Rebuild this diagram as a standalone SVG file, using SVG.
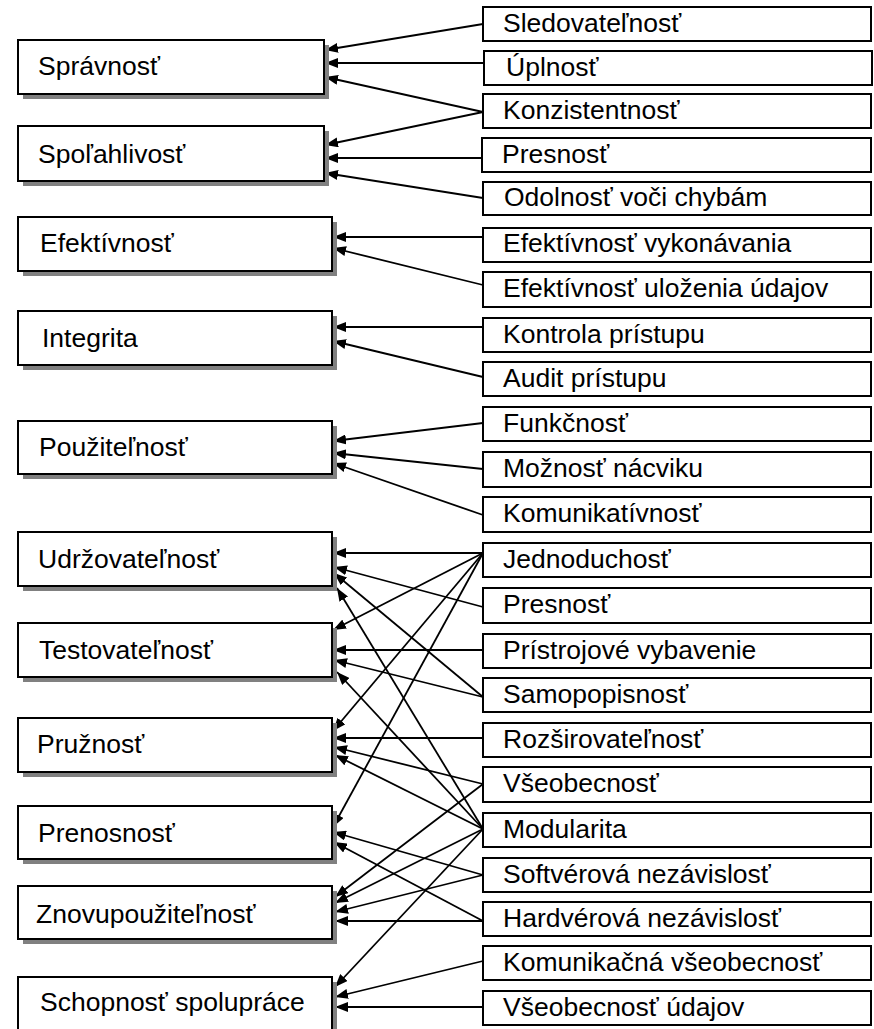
<svg xmlns="http://www.w3.org/2000/svg" width="874" height="1029" viewBox="0 0 874 1029">
<defs>
<marker id="ah" viewBox="0 0 13 10" refX="13" refY="5" markerWidth="13" markerHeight="10" markerUnits="userSpaceOnUse" orient="auto">
<path d="M0,0 L13,5 L0,10 z" fill="#000"/>
</marker>
</defs>
<style>
text{font-family:"Liberation Sans",Arial,sans-serif;font-size:26.5px;fill:#000}
.sh{fill:#808080}
.bx{fill:#fff;stroke:#000;stroke-width:2}
.rb{fill:#fff;stroke:#000;stroke-width:2}
#connectors line{stroke:#000;stroke-width:1.8;marker-end:url(#ah)}
</style>
<rect width="874" height="1029" fill="#fff"/>
<g id="connectors">
<line x1="483" y1="24" x2="325" y2="50"/>
<line x1="483" y1="63" x2="325" y2="63"/>
<line x1="483" y1="112" x2="325" y2="77"/>
<line x1="483" y1="112" x2="325" y2="145"/>
<line x1="482" y1="158" x2="325" y2="158"/>
<line x1="483" y1="198" x2="325" y2="173"/>
<line x1="483" y1="237" x2="333" y2="237"/>
<line x1="483" y1="285" x2="333" y2="248"/>
<line x1="483" y1="327" x2="333" y2="327"/>
<line x1="483" y1="377" x2="333" y2="341"/>
<line x1="483" y1="423" x2="333" y2="441"/>
<line x1="483" y1="469" x2="333" y2="453"/>
<line x1="483" y1="515" x2="333" y2="463"/>
<line x1="483" y1="553" x2="333" y2="553"/>
<line x1="483" y1="553" x2="333" y2="630"/>
<line x1="483" y1="553" x2="333" y2="731"/>
<line x1="483" y1="553" x2="333" y2="827"/>
<line x1="483" y1="607" x2="334" y2="567"/>
<line x1="483" y1="650" x2="333" y2="650"/>
<line x1="483" y1="697" x2="334" y2="573"/>
<line x1="483" y1="697" x2="334" y2="660"/>
<line x1="483" y1="738" x2="333" y2="738"/>
<line x1="483" y1="784" x2="334" y2="747"/>
<line x1="483" y1="784" x2="335" y2="897"/>
<line x1="483" y1="829" x2="337" y2="588"/>
<line x1="483" y1="829" x2="337" y2="672"/>
<line x1="483" y1="829" x2="335" y2="755"/>
<line x1="483" y1="829" x2="335" y2="903"/>
<line x1="483" y1="829" x2="335" y2="987"/>
<line x1="483" y1="875" x2="333" y2="832"/>
<line x1="483" y1="875" x2="335" y2="912"/>
<line x1="483" y1="921" x2="334" y2="842"/>
<line x1="483" y1="921" x2="335" y2="921"/>
<line x1="483" y1="961" x2="335" y2="997"/>
<line x1="483" y1="1007" x2="335" y2="1007"/>
</g>
<g id="spravnost"><rect class="sh" x="23" y="45" width="306" height="54"/><rect class="bx" x="18" y="40" width="306" height="54"/><text x="38" y="75">Správnosť</text></g>
<g id="spolahlivost"><rect class="sh" x="23" y="131" width="306" height="55"/><rect class="bx" x="18" y="126" width="306" height="55"/><text x="38" y="163">Spoľahlivosť</text></g>
<g id="efektivnost"><rect class="sh" x="23" y="222" width="314" height="54"/><rect class="bx" x="18" y="217" width="314" height="54"/><text x="40" y="252">Efektívnosť</text></g>
<g id="integrita"><rect class="sh" x="23" y="316" width="314" height="54"/><rect class="bx" x="18" y="311" width="314" height="54"/><text x="42" y="347">Integrita</text></g>
<g id="pouzitelnost"><rect class="sh" x="23" y="426" width="314" height="53"/><rect class="bx" x="18" y="421" width="314" height="53"/><text x="39" y="456">Použiteľnosť</text></g>
<g id="udrzovatelnost"><rect class="sh" x="23" y="537" width="314" height="54"/><rect class="bx" x="18" y="532" width="314" height="54"/><text x="38" y="568">Udržovateľnosť</text></g>
<g id="testovatelnost"><rect class="sh" x="23" y="628" width="314" height="54"/><rect class="bx" x="18" y="623" width="314" height="54"/><text x="39" y="659">Testovateľnosť</text></g>
<g id="pruznost"><rect class="sh" x="23" y="723" width="314" height="54"/><rect class="bx" x="18" y="718" width="314" height="54"/><text x="37" y="753">Pružnosť</text></g>
<g id="prenosnost"><rect class="sh" x="23" y="811" width="314" height="53"/><rect class="bx" x="18" y="806" width="314" height="53"/><text x="38" y="842">Prenosnosť</text></g>
<g id="znovupouzitelnost"><rect class="sh" x="23" y="891" width="314" height="53"/><rect class="bx" x="18" y="886" width="314" height="53"/><text x="36" y="923">Znovupoužiteľnosť</text></g>
<g id="schopnost"><rect class="sh" x="23" y="982" width="314" height="56"/><rect class="bx" x="18" y="977" width="314" height="56"/><text x="40" y="1011">Schopnosť spolupráce</text></g>
<g id="sledovatelnost"><rect class="rb" x="483" y="7" width="388" height="34"/><text x="503" y="32">Sledovateľnosť</text></g>
<g id="uplnost"><rect class="rb" x="484" y="51" width="388" height="34"/><text x="506" y="76">Úplnosť</text></g>
<g id="konzistentnost"><rect class="rb" x="483" y="94" width="388" height="34"/><text x="503" y="119">Konzistentnosť</text></g>
<g id="presnost1"><rect class="rb" x="482" y="138" width="389" height="34"/><text x="502" y="163">Presnosť</text></g>
<g id="odolnost"><rect class="rb" x="483" y="182" width="388" height="33"/><text x="504" y="206">Odolnosť voči chybám</text></g>
<g id="ef-vykonavania"><rect class="rb" x="483" y="228" width="388" height="34"/><text x="503" y="252">Efektívnosť vykonávania</text></g>
<g id="ef-ulozenia"><rect class="rb" x="483" y="272" width="388" height="35"/><text x="503" y="297">Efektívnosť uloženia údajov</text></g>
<g id="kontrola"><rect class="rb" x="483" y="318" width="388" height="34"/><text x="503" y="343">Kontrola prístupu</text></g>
<g id="audit"><rect class="rb" x="483" y="362" width="388" height="34"/><text x="503" y="387">Audit prístupu</text></g>
<g id="funkcnost"><rect class="rb" x="483" y="407" width="388" height="34"/><text x="503" y="432">Funkčnosť</text></g>
<g id="moznost"><rect class="rb" x="483" y="452" width="388" height="35"/><text x="503" y="477">Možnosť nácviku</text></g>
<g id="komunikativnost"><rect class="rb" x="483" y="497" width="388" height="35"/><text x="503" y="522">Komunikatívnosť</text></g>
<g id="jednoduchost"><rect class="rb" x="483" y="543" width="388" height="34"/><text x="503" y="568">Jednoduchosť</text></g>
<g id="presnost2"><rect class="rb" x="483" y="588" width="388" height="35"/><text x="503" y="613">Presnosť</text></g>
<g id="pristrojove"><rect class="rb" x="483" y="634" width="388" height="34"/><text x="503" y="659">Prístrojové vybavenie</text></g>
<g id="samopopisnost"><rect class="rb" x="483" y="678" width="388" height="34"/><text x="503" y="703">Samopopisnosť</text></g>
<g id="rozsirovatelnost"><rect class="rb" x="483" y="723" width="388" height="34"/><text x="503" y="748">Rozširovateľnosť</text></g>
<g id="vseobecnost"><rect class="rb" x="483" y="767" width="388" height="35"/><text x="503" y="792">Všeobecnosť</text></g>
<g id="modularita"><rect class="rb" x="483" y="813" width="388" height="34"/><text x="503" y="838">Modularita</text></g>
<g id="softverova"><rect class="rb" x="483" y="858" width="388" height="34"/><text x="503" y="883">Softvérová nezávislosť</text></g>
<g id="hardverova"><rect class="rb" x="483" y="902" width="388" height="34"/><text x="503" y="927">Hardvérová nezávislosť</text></g>
<g id="komunikacna"><rect class="rb" x="483" y="946" width="388" height="34"/><text x="503" y="971">Komunikačná všeobecnosť</text></g>
<g id="vseobecnost-udajov"><rect class="rb" x="483" y="991" width="388" height="34"/><text x="503" y="1016">Všeobecnosť údajov</text></g>
</svg>
